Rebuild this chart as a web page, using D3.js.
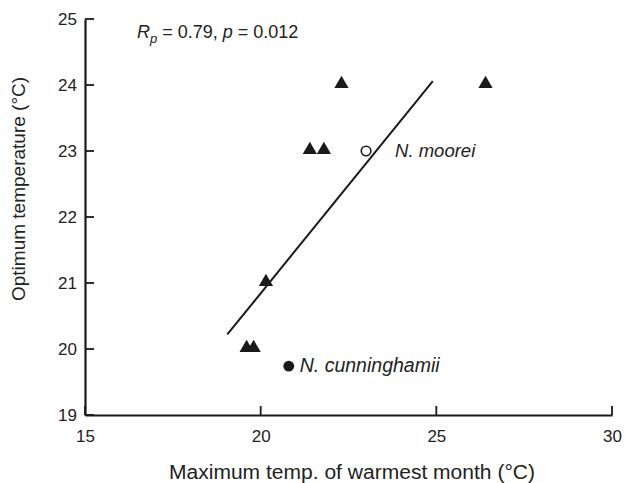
<!DOCTYPE html>
<html>
<head>
<meta charset="utf-8">
<script src="https://cdn.jsdelivr.net/npm/d3@7"></script>
<style>
  html, body { margin: 0; padding: 0; background: #ffffff; }
  svg { display: block; font-family: "Liberation Sans", Arial, sans-serif; }
</style>
</head>
<body>
<svg id="chart" width="625" height="483"></svg>
<script>
// ---- data ----
const triangleX = [22.3, 26.4, 21.4, 21.8, 20.15, 19.6, 19.8];
const triangleY = [24, 24, 23, 23, 21, 20, 20];
const mooreiPoint = [23.0, 23.0];
const cunninghamiiPoint = [20.8, 19.74];
const fitX = [19.05, 24.9];
const fitY = [20.22, 24.06];
const xTicks = [15, 20, 25, 30];
const yTicks = [19, 20, 21, 22, 23, 24, 25];
const labels = { moorei: "N. moorei", cunninghamii: "N. cunninghamii" };

const svg = d3.select("#chart");
const ink = "#1a1a1a";
const txt = "#222";
const x = d3.scaleLinear().domain([15, 30]).range([85, 612]);
const y = d3.scaleLinear().domain([19, 25]).range([415, 19]);

// axes (labels + domain via d3.axis, tick marks drawn inward explicitly)
const xAxis = d3.axisBottom(x).tickValues(xTicks).tickFormat(d3.format("d"))
  .tickSize(0).tickPadding(12);
const yAxis = d3.axisLeft(y).tickValues(yTicks).tickFormat(d3.format("d"))
  .tickSize(0).tickPadding(8);

const gx = svg.append("g").attr("transform", `translate(0,${y(19)})`).call(xAxis);
const gy = svg.append("g").attr("transform", `translate(${x(15)},0)`).call(yAxis);
[gx, gy].forEach(g => {
  g.select(".domain").attr("stroke", ink).attr("stroke-width", 2.2);
  g.selectAll(".tick text").attr("fill", txt).attr("font-size", 17)
    .style("font-family", '"Liberation Sans", Arial, sans-serif');
});
gx.selectAll(".tick text").attr("y", 27).attr("dy", 0);

svg.append("g").selectAll("line").data(xTicks).join("line")
  .attr("x1", d => x(d)).attr("x2", d => x(d))
  .attr("y1", y(19)).attr("y2", y(19) - 9)
  .attr("stroke", ink).attr("stroke-width", 1.8);
svg.append("g").selectAll("line").data(yTicks).join("line")
  .attr("x1", x(15)).attr("x2", x(15) + 9)
  .attr("y1", d => y(d)).attr("y2", d => y(d))
  .attr("stroke", ink).attr("stroke-width", 1.8);

// regression line
svg.append("line")
  .attr("x1", x(fitX[0])).attr("y1", y(fitY[0]))
  .attr("x2", x(fitX[1])).attr("y2", y(fitY[1]))
  .attr("stroke", ink).attr("stroke-width", 2);

// triangles
const tri = d3.symbol().type(d3.symbolTriangle).size(88);
svg.append("g").selectAll("path")
  .data(triangleX.map((v, i) => [v, triangleY[i]]))
  .join("path")
  .attr("d", tri)
  .attr("transform", d => `translate(${x(d[0])},${y(d[1]) - 1})`)
  .attr("fill", ink);

// circles
svg.append("circle").attr("cx", x(mooreiPoint[0])).attr("cy", y(mooreiPoint[1]))
  .attr("r", 4.8).attr("fill", "#fff").attr("stroke", ink).attr("stroke-width", 1.6);
svg.append("circle").attr("cx", x(cunninghamiiPoint[0])).attr("cy", y(cunninghamiiPoint[1]))
  .attr("r", 5.4).attr("fill", ink);

// point labels
svg.append("text").attr("x", x(mooreiPoint[0]) + 29).attr("y", y(mooreiPoint[1]) + 6)
  .attr("font-style", "italic").attr("font-size", 18.5).attr("fill", txt).text(labels.moorei);
svg.append("text").attr("x", x(cunninghamiiPoint[0]) + 11).attr("y", y(cunninghamiiPoint[1]) + 6)
  .attr("font-style", "italic").attr("font-size", 19.5).attr("fill", txt).text(labels.cunninghamii);

// stats annotation
const st = svg.append("text").attr("x", 137).attr("y", 38).attr("font-size", 18).attr("fill", txt);
st.append("tspan").attr("font-style", "italic").text("R");
st.append("tspan").attr("font-style", "italic").attr("font-size", 13).attr("dy", 5).text("p");
st.append("tspan").attr("dy", -5).text(" = 0.79, ");
st.append("tspan").attr("font-style", "italic").text("p");
st.append("tspan").text(" = 0.012");

// axis titles
svg.append("text").attr("x", 169).attr("y", 479)
  .attr("textLength", 366).attr("lengthAdjust", "spacingAndGlyphs")
  .attr("font-size", 19.5).attr("fill", txt).text("Maximum temp. of warmest month (°C)");
svg.append("text").attr("transform", `translate(25,189) rotate(-90)`)
  .attr("text-anchor", "middle").attr("font-size", 19).attr("fill", txt)
  .text("Optimum temperature (°C)");
</script>
</body>
</html>
